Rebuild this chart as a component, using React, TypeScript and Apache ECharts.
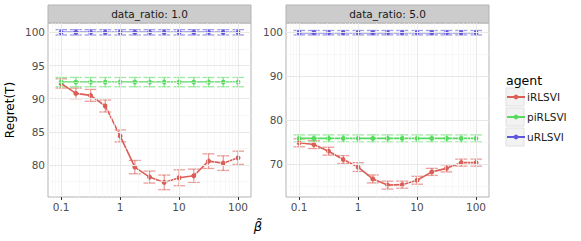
import React, { useEffect, useRef } from 'react';
import * as echarts from 'echarts';

// ---- data ----
const betas = [0.1, 0.178, 0.316, 0.562, 1, 1.78, 3.16, 5.62, 10, 17.8, 31.6, 56.2, 100];
const xTickValues = [0.1, 1, 10, 100];
const agents = ['iRLSVI', 'piRLSVI', 'uRLSVI'];
const facetTitles = ['data_ratio: 1.0', 'data_ratio: 5.0'];

// data_ratio 1.0
const iMean1 = [92.3, 90.8, 90.5, 88.9, 84.4, 79.7, 78.2, 77.4, 78.1, 78.4, 80.6, 80.3, 81.1];
const iErr1 = [0.7, 0.8, 0.9, 0.9, 0.9, 1.0, 0.9, 1.1, 1.2, 1.0, 1.1, 1.1, 1.0];
const piMean1 = [92.5, 92.5, 92.5, 92.5, 92.5, 92.5, 92.5, 92.5, 92.5, 92.5, 92.5, 92.5, 92.5];
const piErr1 = [0.7, 0.7, 0.7, 0.7, 0.7, 0.7, 0.7, 0.7, 0.7, 0.7, 0.7, 0.7, 0.7];
const uMean1 = [100, 100, 100, 100, 100, 100, 100, 100, 100, 100, 100, 100, 100];
const uErr1 = [0.4, 0.4, 0.4, 0.4, 0.4, 0.4, 0.4, 0.4, 0.4, 0.4, 0.4, 0.4, 0.4];

// data_ratio 5.0
const iMean5 = [74.9, 74.5, 73.0, 71.1, 69.4, 66.7, 65.3, 65.4, 66.4, 68.3, 69.1, 70.4, 70.4];
const iErr5 = [0.9, 0.9, 0.9, 0.9, 1.0, 0.9, 0.9, 0.8, 0.9, 0.8, 0.8, 0.8, 0.8];
const piMean5 = [75.9, 75.9, 75.9, 75.9, 75.9, 75.9, 75.9, 75.9, 75.9, 75.9, 75.9, 75.9, 75.9];
const piErr5 = [0.8, 0.8, 0.8, 0.8, 0.8, 0.8, 0.8, 0.8, 0.8, 0.8, 0.8, 0.8, 0.8];
const uMean5 = [99.9, 99.9, 99.9, 99.9, 99.9, 99.9, 99.9, 99.9, 99.9, 99.9, 99.9, 99.9, 99.9];
const uErr5 = [0.5, 0.5, 0.5, 0.5, 0.5, 0.5, 0.5, 0.5, 0.5, 0.5, 0.5, 0.5, 0.5];

const yTicks1 = [80, 85, 90, 95, 100];
const yMinor1 = [77.5, 82.5, 87.5, 92.5, 97.5];
const yTicks5 = [70, 80, 90, 100];
const yMinor5 = [65, 75, 85, 95];
const xMinorMultipliers = [2, 3, 4, 5, 6, 7, 8, 9];
const xMinorDecades = [0.01, 0.1, 1, 10];

const COLORS = ['#db5f57', '#57db5f', '#5f57db'];

const panels = [
  { means: [iMean1, piMean1, uMean1], errs: [iErr1, piErr1, uErr1], yMin: 75.2, yMax: 101.4, yTicks: yTicks1, yMinor: yMinor1, left: 48 },
  { means: [iMean5, piMean5, uMean5], errs: [iErr5, piErr5, uErr5], yMin: 62.6, yMax: 102.1, yTicks: yTicks5, yMinor: yMinor5, left: 286 },
];

const PANEL_W = 203;
const PANEL_TOP = 23;
const PANEL_H = 174;
const X_MIN = Math.log10(0.06);
const X_MAX = Math.log10(166);

export default function App() {
  const ref = useRef<HTMLDivElement>(null);

  useEffect(() => {
    if (!ref.current) return;
    const chart = echarts.init(ref.current, undefined, { renderer: 'svg' });

    const xMinor: number[] = [];
    xMinorDecades.forEach((d) =>
      xMinorMultipliers.forEach((m) => {
        const v = Math.log10(d * m);
        if (v > X_MIN && v < X_MAX) xMinor.push(v);
      })
    );
    const xMajor = xTickValues.map((v) => Math.log10(v));

    const grids: any[] = [];
    const xAxes: any[] = [];
    const yAxes: any[] = [];
    const series: any[] = [];
    const graphics: any[] = [];

    panels.forEach((p, pi) => {
      grids.push({
        left: p.left,
        top: PANEL_TOP,
        width: PANEL_W,
        height: PANEL_H,
        show: true,
        backgroundColor: '#ffffff',
        borderColor: '#b3b3b3',
        borderWidth: 1,
      });
      xAxes.push({
        type: 'value',
        gridIndex: pi,
        min: X_MIN,
        max: X_MAX,
        axisLine: { show: false },
        splitLine: { show: false },
        axisTick: { show: true, length: 3, lineStyle: { color: '#333333' }, customValues: xMajor },
        axisLabel: {
          customValues: xMajor,
          margin: 4,
          fontSize: 10.5,
          color: '#4d4d4d',
          fontFamily: 'DejaVu Sans',
          formatter: (v: number) => {
            const t = xTickValues.find((tv) => Math.abs(Math.log10(tv) - v) < 1e-6);
            return t === undefined ? '' : String(t);
          },
        },
      });
      yAxes.push({
        type: 'value',
        gridIndex: pi,
        min: p.yMin,
        max: p.yMax,
        axisLine: { show: false },
        splitLine: { show: false },
        axisTick: { show: true, length: 3, lineStyle: { color: '#333333' }, customValues: p.yTicks },
        axisLabel: {
          customValues: p.yTicks,
          margin: 3,
          fontSize: 10.5,
          color: '#4d4d4d',
          fontFamily: 'DejaVu Sans',
        },
        name: pi === 0 ? 'Regret(T)' : '',
        nameLocation: 'middle',
        nameGap: 32,
        nameRotate: 90,
        nameTextStyle: { fontSize: 12, color: '#000000', fontFamily: 'DejaVu Sans' },
      });

      // grid lines
      const lines: any[] = [];
      xMinor.forEach((v) => lines.push({ xAxis: v, lineStyle: { color: '#f4f4f4', width: 0.6, type: 'solid' } }));
      p.yMinor.forEach((v) => lines.push({ yAxis: v, lineStyle: { color: '#f4f4f4', width: 0.6, type: 'solid' } }));
      xMajor.forEach((v) => lines.push({ xAxis: v, lineStyle: { color: '#e8e8e8', width: 1, type: 'solid' } }));
      p.yTicks.forEach((v) => lines.push({ yAxis: v, lineStyle: { color: '#e8e8e8', width: 1, type: 'solid' } }));
      series.push({
        name: 'grid' + pi,
        type: 'line',
        xAxisIndex: pi,
        yAxisIndex: pi,
        data: [],
        z: 1,
        silent: true,
        markLine: {
          silent: true,
          symbol: ['none', 'none'],
          label: { show: false },
          animation: false,
          data: lines,
        },
      });

      agents.forEach((a, ai) => {
        const color = COLORS[ai];
        const means = p.means[ai];
        const errs = p.errs[ai];
        series.push({
          name: 'err-' + a + '-' + pi,
          type: 'custom',
          xAxisIndex: pi,
          yAxisIndex: pi,
          z: 3,
          clip: false,
          encode: { x: 0, y: [1, 2] },
          data: betas.map((b, i) => [Math.log10(b), means[i] - errs[i], means[i] + errs[i]]),
          renderItem: (params: any, api: any) => {
            const x = api.value(0);
            const lo = api.coord([x, api.value(1)]);
            const hi = api.coord([x, api.value(2)]);
            const hw = 6;
            const style = { stroke: color, lineWidth: 1.3, opacity: 0.6 };
            return {
              type: 'group',
              children: [
                { type: 'line', shape: { x1: lo[0], y1: lo[1], x2: hi[0], y2: hi[1] }, style },
                { type: 'line', shape: { x1: lo[0] - hw, y1: lo[1], x2: lo[0] + hw, y2: lo[1] }, style },
                { type: 'line', shape: { x1: hi[0] - hw, y1: hi[1], x2: hi[0] + hw, y2: hi[1] }, style },
              ],
            };
          },
        });
        series.push({
          name: a,
          type: 'line',
          xAxisIndex: pi,
          yAxisIndex: pi,
          z: 4,
          data: betas.map((b, i) => [Math.log10(b), means[i]]),
          symbol: 'circle',
          symbolSize: 5,
          showSymbol: true,
          lineStyle: { color, width: 1.6 },
          itemStyle: { color },
        });
      });

      // strip
      graphics.push({
        type: 'rect',
        shape: { x: p.left, y: 5, width: PANEL_W, height: 18 },
        style: { fill: '#cccccc', stroke: '#b3b3b3', lineWidth: 1 },
      });
      graphics.push({
        type: 'text',
        x: p.left + PANEL_W / 2,
        y: 14,
        style: {
          text: facetTitles[pi],
          fill: '#1a1a1a',
          fontSize: 10.5,
          fontFamily: 'DejaVu Sans',
          align: 'center',
          verticalAlign: 'middle',
        },
      });
    });

    // x-axis title
    graphics.push({
      type: 'text',
      x: 258,
      y: 226,
      style: {
        text: 'β\u0303',
        fill: '#000000',
        fontSize: 13,
        fontStyle: 'italic',
        fontFamily: 'DejaVu Sans',
        align: 'center',
        verticalAlign: 'middle',
      },
    });
    // legend title and key boxes
    graphics.push({
      type: 'text',
      x: 506,
      y: 80,
      style: { text: 'agent', fill: '#000000', fontSize: 12.5, fontFamily: 'DejaVu Sans', align: 'left', verticalAlign: 'middle' },
    });
    agents.forEach((a, ai) => {
      graphics.push({
        type: 'rect',
        z: -1,
        shape: { x: 506, y: 88 + ai * 20, width: 18, height: 18 },
        style: { fill: '#f2f2f2', stroke: '#e0e0e0', lineWidth: 1 },
      });
    });

    chart.setOption({
      animation: false,
      grid: grids,
      xAxis: xAxes,
      yAxis: yAxes,
      series,
      graphic: graphics,
      legend: {
        data: agents,
        orient: 'vertical',
        left: 506,
        top: 87,
        itemWidth: 18,
        itemHeight: 6,
        itemGap: 0,
        padding: 0,
        selectedMode: false,
        textStyle: { fontSize: 10.5, color: '#1a1a1a', fontFamily: 'DejaVu Sans', lineHeight: 20, padding: [0, 0, 0, -3] },
      },
    });

    return () => chart.dispose();
  }, []);

  return <div ref={ref} style={{ position: 'absolute', left: 0, top: 0, width: 581, height: 241 }} />;
}
